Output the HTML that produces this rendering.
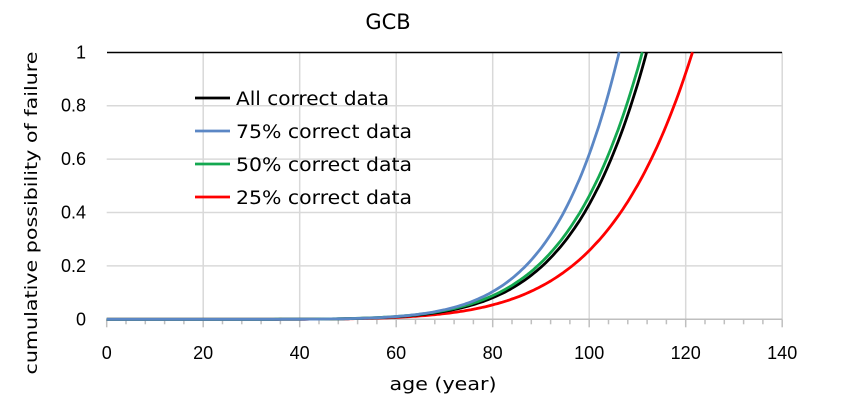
<!DOCTYPE html><html><head><style>body{margin:0;background:#fff}svg{font-family:"DejaVu Sans","Liberation Sans",sans-serif}</style></head><body>
<svg id="s" width="859" height="401" xmlns="http://www.w3.org/2000/svg">
<rect width="859" height="401" fill="#fff"/>
<text x="388" y="29" font-size="21" text-anchor="middle">GCB</text>
<g id="grid" stroke="#d9d9d9" stroke-width="1.5"></g>
<g id="lab" font-size="16" fill="#000" font-family="Liberation Sans"></g>
<text x="443" y="390" font-size="18" text-anchor="middle" textLength="107" lengthAdjust="spacingAndGlyphs">age (year)</text>
<text transform="translate(37,213) rotate(-90)" font-size="17" text-anchor="middle" textLength="323" lengthAdjust="spacingAndGlyphs">cumulative possibility of failure</text>
<line x1="107" y1="52.5" x2="782" y2="52.5" stroke="#000" stroke-width="1.5"/>
<g id="curves" fill="none" stroke-width="2.8"></g>
<g font-size="18.5">
<line x1="195" y1="98" x2="230" y2="98" stroke="#000" stroke-width="2.8"/><text x="236" y="105" textLength="153" lengthAdjust="spacingAndGlyphs">All correct data</text>
<line x1="195" y1="131" x2="230" y2="131" stroke="#5b87c5" stroke-width="2.8"/><text x="236" y="138" textLength="176" lengthAdjust="spacingAndGlyphs">75% correct data</text>
<line x1="195" y1="164" x2="230" y2="164" stroke="#14a850" stroke-width="2.8"/><text x="236" y="171" textLength="176" lengthAdjust="spacingAndGlyphs">50% correct data</text>
<line x1="195" y1="197" x2="230" y2="197" stroke="#ff0000" stroke-width="2.8"/><text x="236" y="204" textLength="176" lengthAdjust="spacingAndGlyphs">25% correct data</text>
</g>
</svg>
<script>
var NS="http://www.w3.org/2000/svg",x0=106.7,sx=4.825,y0=319.3,sy=267;
function X(t){return x0+t*sx}function Y(f){return y0-f*sy}
var g=document.getElementById('grid'),l=document.getElementById('lab');
function el(p,n,a,txt){var e=document.createElementNS(NS,n);for(var k in a)e.setAttribute(k,a[k]);if(txt!=null)e.textContent=txt;p.appendChild(e);}
for(var i=1;i<=7;i++)el(g,'line',{x1:X(i*20),x2:X(i*20),y1:52,y2:y0});
for(var i=1;i<=4;i++)el(g,'line',{x1:x0,x2:782,y1:Y(i*.2),y2:Y(i*.2)});
el(g,'line',{x1:x0,x2:782,y1:y0,y2:y0,stroke:'#bfbfbf'});
for(var t=0;t<=140;t+=4)el(g,'line',{x1:X(t),x2:X(t),y1:y0,y2:y0+(t%20==0?8:5),stroke:'#bfbfbf'});
for(var i=0;i<=7;i++)el(l,'text',{x:X(i*20),y:359,'text-anchor':'middle','font-size':18},String(i*20));
var yl=['0','0.2','0.4','0.6','0.8','1'];
for(var i=0;i<=5;i++)el(l,'text',{x:86,y:Y(i*.2)+6,'text-anchor':'end','font-size':18},yl[i]);
var C=[['#ff0000',121.4,7.0],['#000',111.9,7.5],['#14a850',111,7.4],['#5b87c5',106.2,8.0]];
var cg=document.getElementById('curves');
C.forEach(function(c){var T=c[1],k=c[2],s='';
for(var t=0;t<T;t+=0.5)s+=(s?'L':'M')+X(t).toFixed(1)+','+Y(Math.pow(t/T,k)).toFixed(1);
s+='L'+X(T).toFixed(1)+','+Y(1).toFixed(1);
el(cg,'path',{d:s,stroke:c[0]});});
</script>
</body></html>
